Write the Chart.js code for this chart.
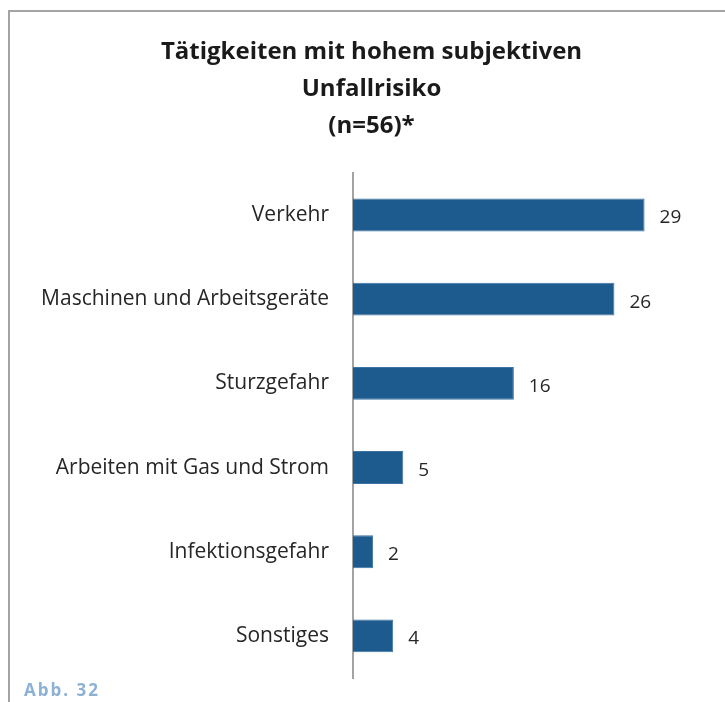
<!DOCTYPE html>
<html>
<head>
<meta charset="utf-8">
<script src="https://cdn.jsdelivr.net/npm/chart.js@4/dist/chart.umd.min.js"></script>
<style>
  body { margin: 0; background: #fff; }
  #wrap { position: relative; width: 725px; height: 702px; }
  #frame { position: absolute; left: 8px; top: 10px; right: -10px; bottom: -10px;
    border-left: 2px solid #a3a3a3; border-top: 2px solid #a3a3a3; }
  #abb { position: absolute; left: 24px; top: 678px; font: bold 17px "Open Sans", sans-serif;
    color: #8db0d6; letter-spacing: 2px; }
  canvas { position: absolute; left: 0; top: 0; }
</style>
</head>
<body>
<div id="wrap">
  <div id="frame"></div>
  <canvas id="c" width="725" height="702"></canvas>
  <div id="abb">Abb. 32</div>
</div>
<script>
const categories = ['Verkehr', 'Maschinen und Arbeitsgeräte', 'Sturzgefahr', 'Arbeiten mit Gas und Strom', 'Infektionsgefahr', 'Sonstiges'];
const values = [29, 26, 16, 5, 2, 4];
const titleLines = ['Tätigkeiten mit hohem subjektiven', 'Unfallrisiko', '(n=56)*'];

const valueLabels = {
  id: 'valueLabels',
  afterDatasetsDraw(chart) {
    const ctx = chart.ctx;
    const meta = chart.getDatasetMeta(0);
    ctx.save();
    ctx.font = '19px "Open Sans", sans-serif';
    ctx.fillStyle = '#262626';
    ctx.textAlign = 'left';
    ctx.textBaseline = 'middle';
    meta.data.forEach((bar, i) => {
      ctx.fillText(String(values[i]), bar.x + 15, bar.y + 3);
    });
    ctx.restore();
  }
};

new Chart(document.getElementById('c').getContext('2d'), {
  type: 'bar',
  data: {
    labels: categories,
    datasets: [{
      data: values,
      backgroundColor: '#1d5a8e',
      borderColor: '#3c73a3',
      borderWidth: 1,
      barPercentage: 0.39,
      categoryPercentage: 1
    }]
  },
  options: {
    indexAxis: 'y',
    responsive: false,
    animation: false,
    layout: { padding: { left: 18, right: 0, top: 34, bottom: 24 } },
    plugins: {
      legend: { display: false },
      tooltip: { enabled: false },
      title: {
        display: true,
        text: titleLines,
        color: '#1a1a1a',
        font: { family: '"Open Sans", sans-serif', size: 24, weight: 'bold', lineHeight: 1.54 },
        padding: { top: 0, bottom: 28 }
      }
    },
    scales: {
      x: { display: false, min: 0, max: 37 },
      y: {
        grid: { display: false, drawTicks: false },
        border: { display: true, color: '#a3a3a3', width: 2 },
        ticks: { color: '#262626', padding: 24, font: { family: '"Open Sans", sans-serif', size: 21 } },
        afterFit(scale) {
          scale.width = 335;
          // tick padding would otherwise be added above/below the axis
          scale.paddingTop = 0;
          scale.paddingBottom = 0;
        }
      }
    }
  },
  plugins: [valueLabels]
});
</script>
</body>
</html>
